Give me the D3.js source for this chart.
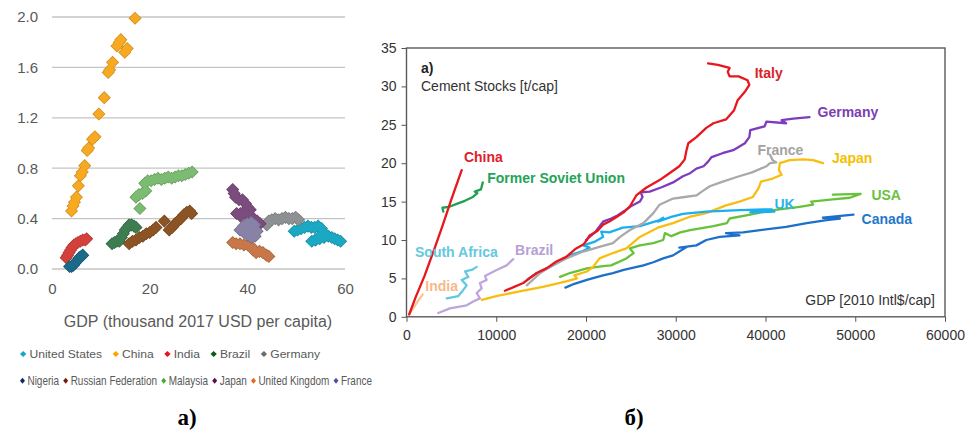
<!DOCTYPE html>
<html>
<head>
<meta charset="utf-8">
<script src="https://cdn.jsdelivr.net/npm/d3@7"></script>
<style>
  body { margin: 0; background: #fff; }
  svg { display: block; }
</style>
</head>
<body>
<svg id="chart" width="968" height="435"></svg>
<script>
// ---------- Panel a): cement intensity vs GDP (thousand 2017 USD per capita) ----------
const gdpTicksA = [0, 20, 40, 60];
const intensityTicks = [0.0, 0.4, 0.8, 1.2, 1.6, 2.0];
const seriesNamesA = ["United States", "China", "India", "Brazil", "Germany",
  "Nigeria", "Russian Federation", "Malaysia", "Japan", "United Kingdom", "France"];

const unitedStatesA = [[49.6,0.30],[50.3,0.31],[51.0,0.32],[51.7,0.33],[52.4,0.34],[53.1,0.33],[53.8,0.33],[54.5,0.34],[55.2,0.32],[55.6,0.29],[54.8,0.26],[54.0,0.23],[53.2,0.22],[53.9,0.23],[54.8,0.24],[55.7,0.25],[56.6,0.26],[57.3,0.25],[57.9,0.24],[58.5,0.23],[59.1,0.22]];
const chinaA = [[4.0,0.46],[4.3,0.50],[4.6,0.53],[5.0,0.57],[5.4,0.66],[5.8,0.74],[6.2,0.77],[6.7,0.82],[7.2,0.94],[7.5,0.96],[8.3,1.03],[8.8,1.05],[9.6,1.23],[10.7,1.36],[11.5,1.56],[11.8,1.58],[12.4,1.64],[13.3,1.77],[13.8,1.80],[14.1,1.82],[14.9,1.72],[15.4,1.75],[17.0,1.99]];
const indiaA = [[2.9,0.09],[3.2,0.11],[3.5,0.13],[3.8,0.15],[4.1,0.17],[4.5,0.19],[4.9,0.20],[5.3,0.21],[5.8,0.22],[6.3,0.23],[6.8,0.23],[7.1,0.24]];
const brazilA = [[12.3,0.20],[12.8,0.21],[13.3,0.22],[13.8,0.22],[14.2,0.25],[14.6,0.28],[15.0,0.31],[15.4,0.33],[15.8,0.35],[16.3,0.35],[16.8,0.34],[17.2,0.33]];
const germanyA = [[44.0,0.35],[44.4,0.38],[45.0,0.39],[45.7,0.40],[46.4,0.39],[47.1,0.40],[47.8,0.41],[48.5,0.40],[49.2,0.40],[49.9,0.41],[50.5,0.39]];
const nigeriaA = [[3.6,0.02],[4.0,0.02],[4.4,0.03],[4.8,0.05],[5.2,0.07],[5.6,0.09],[6.0,0.10],[6.3,0.11]];
const russiaA = [[15.8,0.20],[16.5,0.22],[17.2,0.23],[17.9,0.25],[18.6,0.26],[19.3,0.28],[20.0,0.29],[20.7,0.31],[21.3,0.33],[23.0,0.38],[24.0,0.31],[24.6,0.33],[25.2,0.36],[25.8,0.38],[26.4,0.40],[27.0,0.43],[27.6,0.45],[28.2,0.46],[28.6,0.44]];
const malaysiaA = [[18.0,0.48],[17.2,0.57],[17.8,0.59],[18.5,0.60],[19.2,0.62],[19.0,0.68],[19.6,0.70],[20.3,0.70],[21.0,0.71],[21.7,0.72],[22.4,0.71],[23.1,0.72],[23.8,0.73],[24.5,0.72],[25.2,0.73],[25.9,0.74],[26.6,0.74],[27.3,0.75],[28.0,0.76],[28.7,0.77]];
const japanA = [[37.0,0.63],[37.3,0.60],[37.6,0.57],[38.3,0.55],[39.0,0.55],[39.6,0.52],[40.1,0.49],[40.6,0.47],[39.5,0.45],[38.6,0.44],[37.8,0.44],[38.6,0.42],[39.8,0.43],[40.6,0.42],[41.3,0.40],[42.0,0.38],[42.6,0.36]];
const ukA = [[37.0,0.21],[37.7,0.20],[38.5,0.20],[39.3,0.19],[40.1,0.19],[40.8,0.18],[41.2,0.15],[41.8,0.13],[42.5,0.14],[43.2,0.13],[43.9,0.11],[44.4,0.10]];
const franceA = [[38.5,0.31],[39.2,0.34],[40.0,0.36],[40.8,0.37],[41.5,0.35],[42.0,0.30],[41.6,0.26],[40.8,0.25],[40.0,0.27],[39.3,0.29],[40.2,0.31],[41.0,0.30]];

const seriesValuesA = [unitedStatesA, chinaA, indiaA, brazilA, germanyA,
  nigeriaA, russiaA, malaysiaA, japanA, ukA, franceA];
const markerColorsA = ["#1ba8c3", "#f8a922", "#d4403b", "#3e7c52", "#8e9193",
  "#1c6a8a", "#8c5424", "#7cbc72", "#7b4c7e", "#c87848", "#8782a6"];
const legendColorsA = ["#17a4cc", "#ffa300", "#e3161c", "#0d5a12", "#6b6b6b",
  "#0d2c5e", "#7a1a0c", "#3cb034", "#5c0d4c", "#e8661c", "#5b4aa2"];

// ---------- Panel б): cement stocks vs GDP (2010 Intl$/cap) ----------
const gdpTicksB = [0, 10000, 20000, 30000, 40000, 50000, 60000];
const stockTicks = [0, 5, 10, 15, 20, 25, 30, 35];
const countriesB = ["Canada", "USA", "Japan", "UK", "France", "Germany", "Italy",
  "Brazil", "South Africa", "India", "Former Soviet Union", "China"];

const canadaB = [[17700,3.8],[18700,4.3],[20100,4.8],[21900,5.4],[23000,5.7],[24200,6.1],[26400,6.7],[27500,7.1],[28600,7.6],[29700,8.0],[31200,9.1],[30400,9.0],[32300,9.3],[33400,10.0],[34900,10.4],[37100,10.6],[35600,10.9],[37500,11.0],[39400,11.3],[42300,11.7],[44600,12.2],[46800,12.6],[48300,12.8],[46400,12.9],[49800,13.3]];
const usaB = [[17100,5.2],[18200,5.7],[20100,6.3],[21900,6.6],[22800,6.7],[24500,7.6],[25300,8.3],[24900,8.9],[26000,9.3],[27500,9.6],[28600,10.0],[28800,10.9],[29500,10.5],[30500,11.0],[31600,11.3],[34200,11.8],[35700,12.2],[36000,12.8],[38300,13.3],[40900,13.9],[43800,14.3],[45300,14.6],[45100,15.0],[47500,15.3],[49400,15.5],[50600,16.0],[47500,15.9]];
const japanB = [[8400,2.2],[10000,2.7],[12600,3.3],[15200,3.9],[17800,4.6],[19000,5.0],[18700,5.4],[20100,5.9],[20800,6.5],[21500,7.6],[23000,8.3],[24500,8.9],[26000,10.4],[28000,11.6],[29700,12.2],[31500,13.0],[33400,13.5],[35600,14.5],[37100,15.0],[38600,15.6],[39200,16.7],[39500,17.6],[40800,18.0],[41800,18.5],[41500,19.1],[41600,20.0],[42700,20.4],[44200,20.5],[45300,20.4],[46400,20.0]];
const ukB = [[13500,4.9],[14300,5.5],[15200,6.1],[16000,6.5],[17400,7.4],[18200,8.0],[19700,8.6],[20400,9.0],[19700,9.3],[21000,9.8],[21900,10.4],[21700,11.1],[22600,11.0],[24100,11.6],[26000,11.8],[27100,12.2],[28200,12.6],[28600,12.9],[28000,12.4],[29500,13.0],[30800,13.4],[33400,13.7],[37100,13.9],[40700,14.0],[38300,13.6],[41000,13.7]];
const franceB = [[13400,4.1],[14900,5.7],[16300,6.7],[17800,7.6],[19700,8.5],[21500,9.1],[23000,9.6],[23800,10.4],[24900,11.3],[26400,12.2],[27500,13.5],[28200,14.6],[29700,15.4],[31000,15.6],[32300,15.8],[32900,16.3],[33800,17.0],[35000,17.5],[36800,18.2],[38500,18.8],[40100,19.6],[40500,20.0],[41200,20.1],[40800,20.4],[40500,21.1]];
const germanyB = [[20000,10.0],[21000,11.0],[21900,12.4],[22800,12.8],[23500,13.2],[24300,13.8],[25000,14.4],[26000,15.0],[26300,15.6],[26100,16.2],[27100,16.3],[28500,16.9],[29700,17.5],[30800,18.3],[31600,18.7],[32300,19.3],[33100,19.6],[33600,20.2],[34000,20.8],[35200,21.3],[36400,21.7],[37700,22.6],[38200,23.4],[38300,24.3],[39900,24.8],[40100,25.4],[42300,25.2],[41800,25.6],[43100,25.8],[44900,26.0]];
const italyB = [[10970,3.4],[12000,3.9],[13010,4.4],[14500,5.7],[15600,6.3],[16700,7.2],[17800,7.8],[18900,8.9],[19700,9.4],[20100,10.0],[20400,10.6],[21300,11.2],[21900,12.0],[22600,12.4],[23400,13.0],[24200,13.6],[24900,14.4],[25600,15.8],[26700,16.8],[28200,17.8],[29300,18.7],[30400,19.6],[31000,20.5],[31200,21.7],[31400,22.6],[32300,23.4],[33400,24.6],[34200,25.2],[35600,25.7],[36500,26.9],[36900,28.2],[37700,29.3],[38200,30.2],[38000,30.8],[37000,31.3],[36000,31.3],[35800,31.9],[36000,32.4],[34700,32.8],[33600,33.0]];
const brazilB = [[3540,0.5],[4840,1.1],[6700,1.5],[7440,2.0],[8180,2.4],[7820,3.1],[8370,3.7],[8180,4.4],[8930,4.8],[8740,5.3],[10040,6.1],[11160,6.7],[11890,7.5]];
const southAfricaB = [[4480,2.4],[5770,2.7],[6330,3.5],[6700,4.1],[6150,4.8],[6890,5.2],[6520,5.9],[7260,6.1],[7820,6.5]];
const indiaB = [[300,0.4],[800,1.2],[1300,2.1],[1800,2.9]];
const fsuB = [[4100,13.7],[4000,14.2],[4700,14.3],[5600,14.7],[6500,15.1],[7400,15.6],[7900,16.1],[7600,16.3],[8300,16.6],[8500,17.5]];
const chinaB = [[300,0.3],[1000,2.5],[2000,5.3],[3000,8.5],[4000,11.8],[5000,15.3],[6150,19.1]];

const seriesValuesB = [canadaB, usaB, japanB, ukB, franceB, germanyB, italyB,
  brazilB, southAfricaB, indiaB, fsuB, chinaB];
const lineColorsB = ["#1e6fc9", "#66c23a", "#f9bd10", "#1aaff0", "#a9a9a9", "#7d3cc0", "#e8161d",
  "#bca6dc", "#62cae0", "#f8c49a", "#21a052", "#e8161d"];
const labelColorsB = ["#1f78c8", "#6cc040", "#f4c000", "#2ab4ea", "#a3a3a3", "#7a3fb0", "#d8232a",
  "#b6a0d4", "#66c8de", "#f6b98a", "#24a358", "#e0202a"];
// label anchor (GDP, stock) for each country name
const labelGdpB = [50700, 51800, 47400, 41000, 39100, 45800, 38800, 12100, 950, 2100, 9000, 6400];
const labelStockB = [12.1, 15.2, 20.0, 14.0, 21.1, 26.0, 31.1, 8.0, 7.8, 3.4, 17.4, 20.2];

// ---------- drawing ----------
const svg = d3.select("#chart");
const sans = "'Liberation Sans', Arial, sans-serif";

// ===== Panel a) =====
const xA = d3.scaleLinear().domain([0, 60]).range([52, 345]);
const yA = d3.scaleLinear().domain([0, 2.0]).range([269, 17]);
const gA = svg.append("g").attr("font-family", sans);

// horizontal gridlines
gA.append("g").selectAll("line").data(intensityTicks).join("line")
  .attr("x1", xA(0)).attr("x2", xA(60))
  .attr("y1", d => yA(d)).attr("y2", d => yA(d))
  .attr("stroke", "#c4c4c4").attr("stroke-width", 1.3);

const yAxisA = d3.axisLeft(yA).tickValues(intensityTicks).tickFormat(d3.format(".1f")).tickSize(0).tickPadding(14);
gA.append("g").attr("transform", `translate(${xA(0)},0)`).call(yAxisA)
  .call(g => g.select(".domain").remove())
  .call(g => g.selectAll("text").attr("fill", "#595959").attr("font-size", 15).attr("font-family", sans));

const xAxisA = d3.axisBottom(xA).tickValues(gdpTicksA).tickFormat(d3.format("d")).tickSize(0).tickPadding(14);
gA.append("g").attr("transform", `translate(0,${yA(0)})`).call(xAxisA)
  .call(g => g.select(".domain").remove())
  .call(g => g.selectAll("text").attr("fill", "#595959").attr("font-size", 15).attr("font-family", sans));

gA.append("text").attr("x", 198).attr("y", 327).attr("text-anchor", "middle")
  .attr("fill", "#595959").attr("font-size", 16).text("GDP (thousand 2017 USD per capita)");

// diamond markers: an outline pass, then a fill pass, so each group reads as one shape
const diamond = { draw(ctx, size) { const r = Math.sqrt(size / 2); ctx.moveTo(0, -r); ctx.lineTo(r, 0); ctx.lineTo(0, r); ctx.lineTo(-r, 0); ctx.closePath(); } };
const diamondPath = d3.symbol().type(diamond).size(62)();
seriesValuesA.forEach((pts, i) => {
  const c = d3.color(markerColorsA[i]);
  const sg = gA.append("g").attr("class", "series-a");
  sg.append("g").selectAll("path").data(pts).join("path")
    .attr("d", diamondPath)
    .attr("transform", d => `translate(${xA(d[0])},${yA(d[1])})`)
    .attr("fill", c.darker(0.5)).attr("stroke", c.darker(0.5)).attr("stroke-width", 1.4);
  sg.append("g").selectAll("path").data(pts).join("path")
    .attr("d", diamondPath)
    .attr("transform", d => `translate(${xA(d[0])},${yA(d[1])})`)
    .attr("fill", markerColorsA[i]);
});

// legend: two rows, each item laid out from its measured text width
const legendRows = [seriesNamesA.slice(0, 5), seriesNamesA.slice(5)];
const legendSpecs = [
  { y: 358, x0: 20, size: 11.5, gap: 10, width: 300 },
  { y: 385, x0: 20, size: 12, gap: 5, width: 352 }
];
legendRows.forEach((names, r) => {
  const spec = legendSpecs[r];
  const row = gA.append("g");
  let x = 0;
  names.forEach(name => {
    const idx = seriesNamesA.indexOf(name);
    const item = row.append("g").attr("transform", `translate(${x},0)`);
    item.append("path").attr("d", d3.symbol().type(diamond).size(18)())
      .attr("transform", `translate(3,${-spec.size * 0.35})`).attr("fill", legendColorsA[idx]);
    const t = item.append("text").attr("x", 9).attr("y", 0)
      .attr("font-size", spec.size).attr("fill", "#595959").text(name);
    x += 9 + t.node().getComputedTextLength() + spec.gap;
  });
  const total = x - spec.gap;
  row.attr("transform", `translate(${spec.x0},${spec.y}) scale(${spec.width / total},1)`);
});

svg.append("text").attr("x", 187).attr("y", 425).attr("text-anchor", "middle")
  .attr("font-family", "'Liberation Serif', 'Times New Roman', serif").attr("font-weight", "bold")
  .attr("font-size", 23).attr("fill", "#000").text("a)");

// ===== Panel б) =====
const xB = d3.scaleLinear().domain([0, 60000]).range([406.5, 945]);
const yB = d3.scaleLinear().domain([0, 35]).range([316.8, 48]);
const gB = svg.append("g").attr("font-family", sans);

const yAxisB = d3.axisLeft(yB).tickValues(stockTicks).tickSize(5).tickPadding(5);
gB.append("g").attr("transform", `translate(${xB(0)},0)`).call(yAxisB)
  .call(g => g.select(".domain").remove())
  .call(g => g.selectAll("line").attr("stroke", "#555"))
  .call(g => g.selectAll("text").attr("fill", "#333").attr("font-size", 14).attr("font-family", sans));

const xAxisB = d3.axisBottom(xB).tickValues(gdpTicksB).tickFormat(d3.format("d")).tickSize(5).tickPadding(8);
gB.append("g").attr("transform", `translate(0,${yB(0)})`).call(xAxisB)
  .call(g => g.select(".domain").remove())
  .call(g => g.selectAll("line").attr("stroke", "#555"))
  .call(g => g.selectAll("text").attr("fill", "#333").attr("font-size", 14).attr("font-family", sans));

// frame
gB.append("rect").attr("x", xB(0)).attr("y", yB(35))
  .attr("width", xB(60000) - xB(0)).attr("height", yB(0) - yB(35))
  .attr("fill", "none").attr("stroke", "#5a5a5a").attr("stroke-width", 1.4);

const lineB = d3.line().x(d => xB(d[0])).y(d => yB(d[1]));
seriesValuesB.forEach((pts, i) => {
  gB.append("path").datum(pts).attr("d", lineB)
    .attr("fill", "none").attr("stroke", lineColorsB[i])
    .attr("stroke-width", 2.3).attr("stroke-linejoin", "round").attr("stroke-linecap", "round");
});

countriesB.forEach((name, i) => {
  gB.append("text").attr("x", xB(labelGdpB[i])).attr("y", yB(labelStockB[i]))
    .attr("font-size", 14).attr("font-weight", "bold").attr("fill", labelColorsB[i]).text(name);
});

gB.append("text").attr("x", 421).attr("y", 73).attr("font-size", 14).attr("font-weight", "bold").attr("fill", "#222").text("a)");
gB.append("text").attr("x", 421).attr("y", 91).attr("font-size", 14).attr("fill", "#333").text("Cement Stocks [t/cap]");
gB.append("text").attr("x", 935).attr("y", 305).attr("text-anchor", "end").attr("font-size", 14).attr("fill", "#333").text("GDP [2010 Intl$/cap]");

svg.append("text").attr("x", 634).attr("y", 425).attr("text-anchor", "middle")
  .attr("font-family", "'Liberation Serif', 'Times New Roman', serif").attr("font-weight", "bold")
  .attr("font-size", 23).attr("fill", "#000").text("б)");
</script>
</body>
</html>
